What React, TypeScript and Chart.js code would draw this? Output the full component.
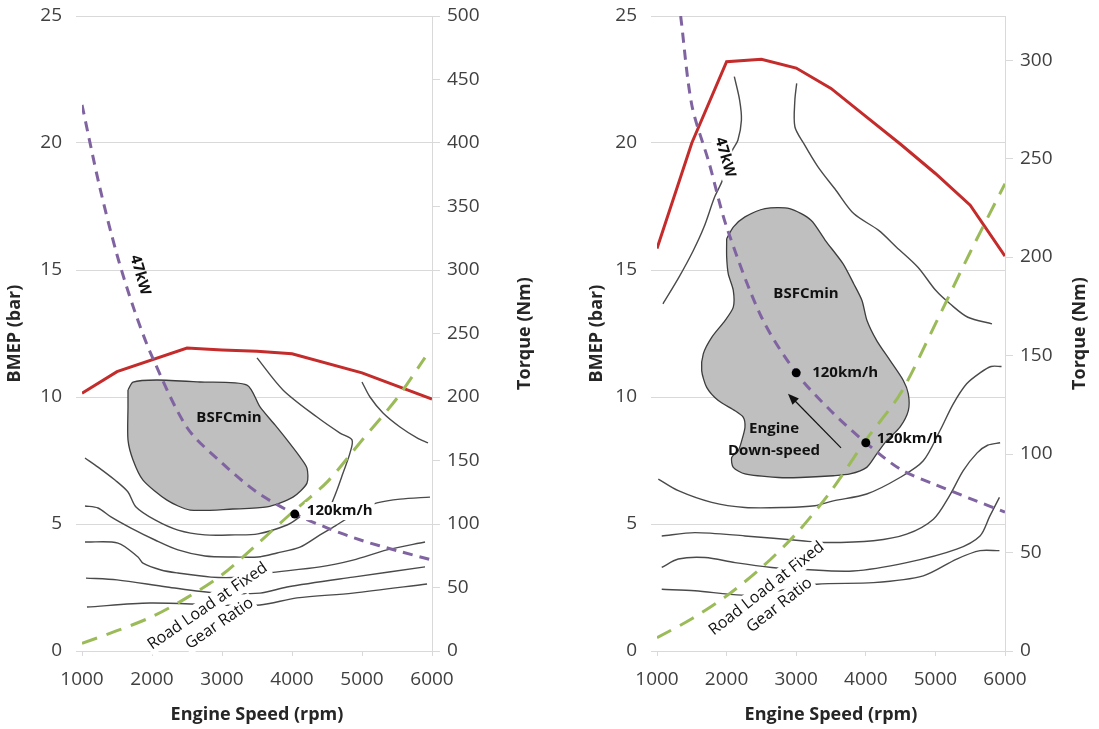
import React, { useEffect, useRef } from "react";
import { Chart, registerables } from "chart.js";

Chart.register(...registerables);

type XY = [number, number];

const FONT = '"Open Sans", "DejaVu Sans", sans-serif';

// ---------- Left engine map ----------
const leftFullLoad: XY[] = [[1000, 10.15], [1500, 11.0], [2500, 11.93], [3000, 11.85], [3500, 11.8], [4000, 11.7], [5000, 10.95], [6000, 9.92]];
const leftPower47: XY[] = [[1000, 21.5], [1250, 18.3], [1500, 15.6], [1750, 13.4], [2000, 11.6], [2500, 8.8], [3000, 7.4], [3500, 6.25], [4000, 5.45], [4500, 4.85], [5000, 4.35], [5500, 3.95], [6000, 3.58]];
const leftRoadLoad: XY[] = [[1000, 0.3], [1500, 0.8], [2000, 1.35], [2500, 2.1], [3000, 3.0], [3500, 4.2], [4000, 5.45], [4500, 6.65], [5000, 8.3], [5500, 9.95], [5900, 11.55]];
const leftBsfcMin: XY[] = [[1657, 10.28], [1729, 10.59], [2071, 10.67], [2686, 10.59], [3357, 10.47], [3543, 9.61], [3757, 8.9], [3929, 8.31], [4114, 7.64], [4214, 7.2], [4214, 6.61], [4014, 6.06], [3643, 5.67], [3157, 5.59], [2543, 5.55], [2214, 5.94], [1871, 6.73], [1729, 7.52], [1657, 8.31], [1657, 9.61]];
const leftIsoA: XY[] = [[1043, 7.6], [1229, 7.24], [1471, 6.73], [1657, 6.26], [1771, 5.67], [2043, 5.16], [2371, 4.76], [2757, 4.57], [3186, 4.57], [3514, 4.61], [3929, 4.96], [4114, 5.28]];
const leftIsoB: XY[] = [[1043, 5.71], [1229, 5.63], [1414, 5.28], [1700, 4.84], [2043, 4.37], [2371, 3.98], [2757, 3.74], [3186, 3.7], [3514, 3.7], [3786, 3.86], [4114, 4.09], [4400, 4.57], [4614, 4.92], [4800, 5.24], [5043, 5.63], [5214, 5.83], [5543, 5.98], [5971, 6.06]];
const leftIsoC: XY[] = [[1043, 4.29], [1514, 4.25], [1800, 3.7], [1871, 3.46], [2129, 3.19], [2371, 3.07], [2843, 2.91], [3257, 2.91], [3643, 3.07], [4400, 3.31], [4871, 3.58], [5357, 3.98], [5900, 4.29]];
const leftIsoD: XY[] = [[1057, 2.87], [1500, 2.8], [2214, 2.52], [2929, 2.28], [3543, 2.28], [3929, 2.52], [4871, 2.91], [5900, 3.31]];
const leftIsoE: XY[] = [[1071, 1.73], [1971, 1.89], [2929, 1.81], [3543, 1.81], [4071, 2.09], [4871, 2.28], [5929, 2.64]];
const leftIsoHigh1: XY[] = [[3500, 11.54], [3871, 10.28], [4357, 9.21], [4686, 8.58], [4857, 8.31], [4829, 7.8], [4729, 7.01], [4643, 6.34], [4571, 5.83]];
const leftIsoHigh2: XY[] = [[5000, 10.59], [5114, 10.0], [5300, 9.37], [5543, 8.82], [5786, 8.39], [5943, 8.19]];
const leftCruise: XY[] = [[4040, 5.39]];

// ---------- Right (downsized) engine map ----------
const rightFullLoad: XY[] = [[1000, 15.85], [1500, 20.0], [2000, 23.2], [2500, 23.3], [3000, 22.95], [3500, 22.15], [4000, 21.05], [4500, 19.95], [5000, 18.8], [5500, 17.55], [6000, 15.55]];
const rightPower47: XY[] = [[1340, 25.0], [1500, 21.5], [1750, 19.2], [2000, 16.7], [2500, 13.15], [3000, 10.95], [3500, 9.45], [4000, 8.2], [4500, 7.15], [5000, 6.55], [5500, 6.0], [6000, 5.47]];
const rightRoadLoad: XY[] = [[1000, 0.52], [1500, 1.27], [2000, 2.17], [2500, 3.28], [3000, 4.62], [3500, 6.3], [4000, 8.3], [4500, 10.15], [5000, 12.88], [5500, 15.7], [6000, 18.4]];
const rightBsfcMin: XY[] = [[2001, 16.23], [2096, 16.69], [2264, 17.09], [2552, 17.42], [2905, 17.42], [3213, 16.96], [3417, 16.17], [3672, 15.25], [3826, 14.46], [3945, 13.8], [4017, 13.01], [4157, 12.22], [4348, 11.44], [4539, 10.65], [4611, 10.12], [4611, 9.46], [4491, 8.81], [4300, 8.28], [4157, 7.76], [4013, 7.23], [3773, 6.97], [3533, 6.9], [3055, 6.83], [2743, 6.83], [2264, 6.97], [2096, 7.23], [2073, 7.62], [2168, 7.89], [2217, 8.28], [2264, 8.81], [2240, 9.2], [2121, 9.46], [1881, 9.86], [1714, 10.38], [1642, 11.04], [1665, 11.7], [1786, 12.35], [1977, 13.01], [2096, 13.54], [2096, 14.2], [2024, 14.85], [2001, 15.51]];
const rightIsoR1: XY[] = [[2111, 22.61], [2187, 21.69], [2213, 20.9], [2162, 20.11], [2085, 19.72], [1931, 18.47], [1829, 17.88], [1675, 16.69], [1522, 15.77], [1316, 14.72], [1086, 13.67]];
const rightIsoR2: XY[] = [[3007, 22.35], [2981, 21.69], [2981, 20.64], [3109, 19.98], [3313, 19.06], [3570, 18.14], [3826, 17.22], [4185, 16.56], [4441, 15.9], [4749, 15.11], [5004, 14.2], [5210, 13.67], [5466, 13.14], [5813, 12.88]];
const rightIsoR3: XY[] = [[1019, 6.77], [1306, 6.31], [1786, 5.85], [2264, 5.65], [2839, 5.65], [3270, 5.72], [3533, 5.91], [4013, 6.18], [4491, 6.83], [4826, 7.49], [5066, 8.68], [5257, 9.73], [5449, 10.52], [5641, 10.95], [5800, 11.2], [5950, 11.2]];
const rightIsoR4: XY[] = [[1068, 4.53], [1546, 4.66], [2264, 4.53], [3079, 4.34], [3438, 4.27], [4109, 4.34], [4587, 4.6], [4971, 5.19], [5200, 6.1], [5400, 7.1], [5600, 7.8], [5750, 8.1], [5930, 8.2]];
const rightIsoR5: XY[] = [[1068, 3.29], [1306, 3.62], [1690, 3.68], [2121, 3.48], [2648, 3.29], [3055, 3.22], [3816, 3.15], [4587, 3.48], [5306, 4.01], [5641, 4.53], [5780, 5.3], [5920, 6.05]];
const rightIsoR6: XY[] = [[1068, 2.43], [1546, 2.37], [2217, 2.2], [2600, 2.3], [3294, 2.63], [4108, 2.69], [4826, 2.96], [5306, 3.62], [5641, 3.95], [5920, 3.95]];
const rightCruise: XY[] = [[3000, 10.95], [4000, 8.2]];
const rightDownspeedArrow: XY[] = [[3644, 8.0], [2882, 10.13]];

// axis ranges
const speedTicks = [1000, 2000, 3000, 4000, 5000, 6000];
const bmepMax = 25;
const leftTorqueMax = 500;
const rightTorqueMax = 322.4;

type Note = {
  lines: string[];
  at: XY;
  dx?: number;
  dy?: number;
  rot?: number;
  font: string;
  align?: CanvasTextAlign;
  bg?: boolean;
  lh?: number;
};

type MapSpec = {
  fullLoad: XY[];
  power: XY[];
  road: XY[];
  island: XY[];
  isolines: XY[][];
  cruise: XY[];
  torqueMax: number;
  leftAxisW: number;
  rightAxisW: number;
  leftTitleGap: number;
  rightTitleGap: number;
  notes: Note[];
  arrow?: XY[];
};

const labelFont = `bold 15px ${FONT}`;
const roadFont = `16px ${FONT}`;

const leftSpec: MapSpec = {
  fullLoad: leftFullLoad,
  power: leftPower47,
  road: leftRoadLoad,
  island: leftBsfcMin,
  isolines: [leftIsoA, leftIsoB, leftIsoC, leftIsoD, leftIsoE, leftIsoHigh1, leftIsoHigh2],
  cruise: leftCruise,
  torqueMax: leftTorqueMax,
  leftAxisW: 82,
  rightAxisW: 113,
  leftTitleGap: 67,
  rightTitleGap: 93,
  notes: [
    { lines: ["BSFCmin"], at: [3100, 9.17], font: labelFont },
    { lines: ["47kW"], at: [1829, 14.8], rot: 74, font: labelFont },
    { lines: ["120km/h"], at: leftCruise[0], dx: 12, dy: -3, align: "left", font: labelFont, bg: true },
    { lines: ["Road Load at Fixed", "Gear Ratio"], at: [2879, 1.42], rot: -34.5, font: roadFont, bg: true, lh: 21 },
  ],
};

const rightSpec: MapSpec = {
  fullLoad: rightFullLoad,
  power: rightPower47,
  road: rightRoadLoad,
  island: rightBsfcMin,
  isolines: [rightIsoR1, rightIsoR2, rightIsoR3, rightIsoR4, rightIsoR5, rightIsoR6],
  cruise: rightCruise,
  torqueMax: rightTorqueMax,
  leftAxisW: 97,
  rightAxisW: 94,
  leftTitleGap: 60,
  rightTitleGap: 75,
  notes: [
    { lines: ["BSFCmin"], at: [3141, 14.08], font: labelFont },
    { lines: ["47kW"], at: [1977, 19.44], rot: 74, font: labelFont, bg: true },
    { lines: ["120km/h"], at: rightCruise[0], dx: 16, dy: 0, align: "left", font: labelFont },
    { lines: ["120km/h"], at: rightCruise[1], dx: 11, dy: -4, align: "left", font: labelFont },
    { lines: ["Engine", "Down-speed"], at: [2681, 8.32], font: labelFont, lh: 22 },
    { lines: ["Road Load at Fixed", "Gear Ratio"], at: [2667, 2.13], rot: -38, font: roadFont, bg: true, lh: 21 },
  ],
  arrow: rightDownspeedArrow,
};

const pts = (a: XY[]) => a.map(([x, y]) => ({ x, y }));

function notesPlugin(spec: MapSpec) {
  return {
    id: "mapNotes",
    afterDatasetsDraw(chart: any) {
      const { ctx } = chart;
      const xs = chart.scales.x;
      const ys = chart.scales.y;
      if (spec.arrow) {
        const [a, b] = spec.arrow;
        const x0 = xs.getPixelForValue(a[0]);
        const y0 = ys.getPixelForValue(a[1]);
        const x1 = xs.getPixelForValue(b[0]);
        const y1 = ys.getPixelForValue(b[1]);
        const ang = Math.atan2(y1 - y0, x1 - x0);
        const head = 11;
        ctx.save();
        ctx.strokeStyle = "#111";
        ctx.fillStyle = "#111";
        ctx.lineWidth = 1.2;
        ctx.beginPath();
        ctx.moveTo(x0, y0);
        ctx.lineTo(x1 - Math.cos(ang) * head * 0.8, y1 - Math.sin(ang) * head * 0.8);
        ctx.stroke();
        ctx.beginPath();
        ctx.moveTo(x1, y1);
        ctx.lineTo(x1 - head * Math.cos(ang) + 4.5 * Math.sin(ang), y1 - head * Math.sin(ang) - 4.5 * Math.cos(ang));
        ctx.lineTo(x1 - head * Math.cos(ang) - 4.5 * Math.sin(ang), y1 - head * Math.sin(ang) + 4.5 * Math.cos(ang));
        ctx.closePath();
        ctx.fill();
        ctx.restore();
      }
      for (const n of spec.notes) {
        const px = xs.getPixelForValue(n.at[0]) + (n.dx ?? 0);
        const py = ys.getPixelForValue(n.at[1]) + (n.dy ?? 0);
        const align = n.align ?? "center";
        const lh = n.lh ?? 20;
        ctx.save();
        ctx.translate(px, py);
        ctx.rotate(((n.rot ?? 0) * Math.PI) / 180);
        ctx.font = n.font;
        ctx.textAlign = align;
        ctx.textBaseline = "middle";
        const top = (-(n.lines.length - 1) * lh) / 2;
        n.lines.forEach((t, i) => {
          const ly = top + i * lh;
          const w = ctx.measureText(t).width;
          if (n.bg) {
            const lx = align === "left" ? 0 : align === "right" ? -w : -w / 2;
            ctx.fillStyle = "#ffffff";
            ctx.fillRect(lx - 2, ly - lh / 2 + 1, w + 4, lh - 2);
          }
          ctx.fillStyle = "#111111";
          ctx.fillText(t, 0, ly);
        });
        ctx.restore();
      }
    },
    afterDraw(chart: any) {
      const { ctx, chartArea: a } = chart;
      const midY = (a.top + a.bottom) / 2;
      ctx.save();
      ctx.font = `bold 18px ${FONT}`;
      ctx.fillStyle = "#262626";
      ctx.textAlign = "center";
      ctx.textBaseline = "middle";
      ctx.fillText("Engine Speed (rpm)", (a.left + a.right) / 2, 715);
      ctx.save();
      ctx.translate(a.left - spec.leftTitleGap, midY);
      ctx.rotate(-Math.PI / 2);
      ctx.fillText("BMEP (bar)", 0, 0);
      ctx.restore();
      ctx.save();
      ctx.translate(a.right + spec.rightTitleGap, midY);
      ctx.rotate(-Math.PI / 2);
      ctx.fillText("Torque (Nm)", 0, 0);
      ctx.restore();
      ctx.restore();
    },
  };
}

// keep scale label overhang out of the layout so the plot box stays fixed
const noOverhang = (s: any) => {
  s.paddingTop = 0;
  s.paddingBottom = 0;
  s.paddingLeft = 0;
  s.paddingRight = 0;
};

function buildConfig(spec: MapSpec): any {
  const iso = (d: XY[]) => ({
    data: pts(d),
    borderColor: "#4a4a4a",
    borderWidth: 1.4,
    pointRadius: 0,
    tension: 0.3,
    fill: false,
    order: 4,
  });
  const tickFont = { family: FONT, size: 19 };
  return {
    type: "line",
    data: {
      datasets: [
        {
          data: pts([...spec.island, spec.island[0]]),
          borderColor: "#3c3c3c",
          borderWidth: 1.3,
          backgroundColor: "#BFBFBF",
          fill: "shape",
          pointRadius: 0,
          tension: 0.25,
          order: 5,
        },
        ...spec.isolines.map(iso),
        {
          data: pts(spec.fullLoad),
          borderColor: "#C42B2B",
          borderWidth: 3,
          pointRadius: 0,
          tension: 0,
          fill: false,
          order: 3,
        },
        {
          data: pts(spec.road),
          borderColor: "#9BBB59",
          borderWidth: 3,
          borderDash: [16, 10],
          pointRadius: 0,
          tension: 0.3,
          fill: false,
          order: 2,
        },
        {
          data: pts(spec.power),
          borderColor: "#8064A2",
          borderWidth: 3,
          borderDash: [10, 7],
          pointRadius: 0,
          tension: 0.3,
          fill: false,
          order: 1,
        },
        {
          data: pts(spec.cruise),
          showLine: false,
          pointRadius: 4.5,
          pointBackgroundColor: "#000",
          pointBorderWidth: 0,
          order: 0,
        },
      ],
    },
    options: {
      responsive: false,
      animation: false,
      devicePixelRatio: 1,
      events: [],
      layout: { padding: { top: 16, left: 0, right: 0, bottom: 0 } },
      plugins: { legend: { display: false }, tooltip: { enabled: false } },
      scales: {
        x: {
          type: "linear",
          min: speedTicks[0],
          max: speedTicks[speedTicks.length - 1],
          afterFit: (s: any) => {
            s.height = 78;
            noOverhang(s);
          },
          afterBuildTicks: (s: any) => {
            s.ticks = speedTicks.map((v) => ({ value: v }));
          },
          ticks: { font: tickFont, color: "#404040", padding: 12, maxRotation: 0, autoSkip: false, callback: (v: any) => String(v) },
          grid: { drawOnChartArea: false, tickLength: 5, color: "#D9D9D9" },
          border: { color: "#D9D9D9" },
        },
        y: {
          position: "left",
          min: 0,
          max: bmepMax,
          afterFit: (s: any) => {
            s.width = spec.leftAxisW;
            noOverhang(s);
          },
          ticks: { stepSize: 5, font: tickFont, color: "#404040", padding: 14, callback: (v: any) => String(v) },
          grid: { color: "#D9D9D9", tickLength: 6 },
          border: { display: false },
        },
        y2: {
          position: "right",
          min: 0,
          max: spec.torqueMax,
          afterFit: (s: any) => {
            s.width = spec.rightAxisW;
            noOverhang(s);
          },
          afterBuildTicks: (s: any) => {
            s.ticks = s.ticks.filter((t: any) => Math.abs(t.value % 50) < 1e-6);
          },
          ticks: { stepSize: 50, font: tickFont, color: "#404040", padding: 7, callback: (v: any) => String(v) },
          grid: { drawOnChartArea: false, tickLength: 8, color: "#D9D9D9" },
          border: { color: "#D9D9D9" },
        },
      },
    },
    plugins: [notesPlugin(spec)],
  };
}

function EngineMap({ spec, left, width }: { spec: MapSpec; left: number; width: number }) {
  const ref = useRef<HTMLCanvasElement>(null);
  useEffect(() => {
    const chart = new Chart(ref.current as HTMLCanvasElement, buildConfig(spec));
    return () => chart.destroy();
  }, [spec]);
  return (
    <canvas
      ref={ref}
      width={width}
      height={729}
      style={{ position: "absolute", left, top: 0, width, height: 729, display: "block" }}
    />
  );
}

export default function App() {
  return (
    <div style={{ position: "fixed", left: 0, top: 0, width: 1099, height: 729, background: "#fff", overflow: "hidden" }}>
      <EngineMap spec={leftSpec} left={0} width={545} />
      <EngineMap spec={rightSpec} left={560} width={539} />
    </div>
  );
}
